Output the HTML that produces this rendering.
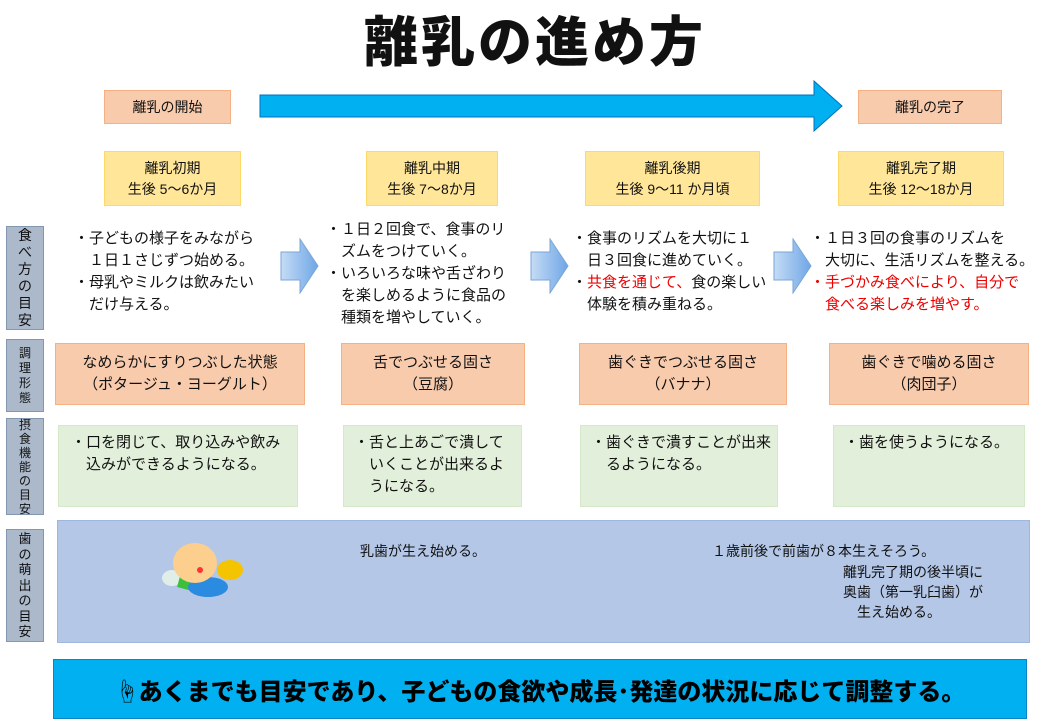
<!DOCTYPE html>
<html><head><meta charset="utf-8"><style>
body{margin:0;width:1043px;height:722px;background:#fff;position:relative;overflow:hidden;font-family:"Liberation Sans","Noto Sans CJK JP",sans-serif;color:#111}
.a{position:absolute;box-sizing:border-box}
.c{display:flex;align-items:center;justify-content:center;text-align:center}
.or{background:#f8cbad;border:1px solid #f4b183}
.ye{background:#ffe699;border:1px solid #ffd966}
.gr{background:#acb9ca;border:1px solid #8497b0;font-size:13px;line-height:16px;text-align:center;display:flex;align-items:center;justify-content:center}
.gn{background:#e2efda;border:1px solid #d5e8c8}
.t{font-size:15px;line-height:22px;white-space:nowrap}
.r{color:#e00}
</style></head><body>
<div class="a c" style="left:300px;top:2px;width:470px;height:70px;font-size:54px;font-weight:900;letter-spacing:3px">離乳の進め方</div>
<div class="a c or" style="left:104px;top:90px;width:127px;height:34px;font-size:14px">離乳の開始</div>
<div class="a c or" style="left:858px;top:90px;width:144px;height:34px;font-size:14px">離乳の完了</div>
<svg class="a" style="left:258px;top:80px" width="586" height="54"><polygon points="2,15 556,15 556,1 584,26 556,51 556,37 2,37" fill="#00b0f0" stroke="#0070c0" stroke-width="1"/></svg>
<div class="a c ye" style="left:104px;top:151px;width:137px;height:55px;font-size:14px;line-height:21px">離乳初期<br>生後 5～6か月</div>
<div class="a c ye" style="left:366px;top:151px;width:132px;height:55px;font-size:14px;line-height:21px">離乳中期<br>生後 7～8か月</div>
<div class="a c ye" style="left:585px;top:151px;width:175px;height:55px;font-size:14px;line-height:21px">離乳後期<br>生後 9～11 か月頃</div>
<div class="a c ye" style="left:838px;top:151px;width:166px;height:55px;font-size:14px;line-height:21px">離乳完了期<br>生後 12～18か月</div>
<div class="a gr" style="left:6px;top:226px;width:38px;height:104px;font-size:14px;line-height:17px">食<br>べ<br>方<br>の<br>目<br>安</div>
<div class="a gr" style="left:6px;top:339px;width:38px;height:73px;font-size:12px;line-height:15px">調<br>理<br>形<br>態</div>
<div class="a gr" style="left:6px;top:418px;width:38px;height:97px;font-size:12px;line-height:14px">摂<br>食<br>機<br>能<br>の<br>目<br>安</div>
<div class="a gr" style="left:6px;top:529px;width:38px;height:113px;font-size:13px;line-height:15.5px">歯<br>の<br>萌<br>出<br>の<br>目<br>安</div>
<div class="a t" style="left:74px;top:228px">・子どもの様子をみながら<br>　１日１さじずつ始める。<br>・母乳やミルクは飲みたい<br>　だけ与える。</div>
<div class="a t" style="left:326px;top:219px">・１日２回食で、食事のリ<br>　ズムをつけていく。<br>・いろいろな味や舌ざわり<br>　を楽しめるように食品の<br>　種類を増やしていく。</div>
<div class="a t" style="left:572px;top:228px">・食事のリズムを大切に１<br>　日３回食に進めていく。<br>・<span class="r">共食を通じて、</span>食の楽しい<br>　体験を積み重ねる。</div>
<div class="a t" style="left:810px;top:228px">・１日３回の食事のリズムを<br>　大切に、生活リズムを整える。<br><span class="r">・手づかみ食べにより、自分で<br>　食べる楽しみを増やす。</span></div>
<svg class="a" style="left:280px;top:238px" width="40" height="56"><defs><linearGradient id="g"><stop offset="0" stop-color="#c5dcf5"/><stop offset="1" stop-color="#6fa6e6"/></linearGradient></defs><polygon points="1,14 20,14 20,1 38,28 20,55 20,42 1,42" fill="url(#g)" stroke="#7aa6d8"/></svg>
<svg class="a" style="left:530px;top:238px" width="40" height="56"><polygon points="1,14 20,14 20,1 38,28 20,55 20,42 1,42" fill="url(#g)" stroke="#7aa6d8"/></svg>
<svg class="a" style="left:773px;top:238px" width="40" height="56"><polygon points="1,14 20,14 20,1 38,28 20,55 20,42 1,42" fill="url(#g)" stroke="#7aa6d8"/></svg>
<div class="a c or" style="left:55px;top:343px;width:250px;height:62px;font-size:15px;line-height:22px">なめらかにすりつぶした状態<br>（ポタージュ・ヨーグルト）</div>
<div class="a c or" style="left:341px;top:343px;width:184px;height:62px;font-size:15px;line-height:22px">舌でつぶせる固さ<br>（豆腐）</div>
<div class="a c or" style="left:579px;top:343px;width:208px;height:62px;font-size:15px;line-height:22px">歯ぐきでつぶせる固さ<br>（バナナ）</div>
<div class="a c or" style="left:829px;top:343px;width:200px;height:62px;font-size:15px;line-height:22px">歯ぐきで噛める固さ<br>（肉団子）</div>
<div class="a gn t" style="left:58px;top:425px;width:240px;height:82px;padding:6px 0 0 12px">・口を閉じて、取り込みや飲み<br>　込みができるようになる。</div>
<div class="a gn t" style="left:343px;top:425px;width:179px;height:82px;padding:6px 0 0 10px">・舌と上あごで潰して<br>　いくことが出来るよ<br>　うになる。</div>
<div class="a gn t" style="left:580px;top:425px;width:198px;height:82px;padding:6px 0 0 10px">・歯ぐきで潰すことが出来<br>　るようになる。</div>
<div class="a gn t" style="left:833px;top:425px;width:192px;height:82px;padding:6px 0 0 10px">・歯を使うようになる。</div>
<div class="a" style="left:57px;top:520px;width:973px;height:123px;background:#b4c7e7;border:1px solid #9fb6df"></div>
<svg class="a" style="left:150px;top:535px" width="100" height="70">
<ellipse cx="22" cy="43" rx="10" ry="8" fill="#dfeee8"/>
<rect x="28" y="45" width="22" height="10" fill="#3cc03c" transform="rotate(15 39 50)"/>
<ellipse cx="58" cy="52" rx="20" ry="10" fill="#2a8be0"/>
<ellipse cx="45" cy="28" rx="22" ry="20" fill="#fccf8f"/>
<circle cx="50" cy="35" r="3" fill="#f33"/>
<ellipse cx="80" cy="35" rx="13" ry="10" fill="#f5c400"/>
</svg>
<div class="a" style="left:360px;top:541px;font-size:14px">乳歯が生え始める。</div>
<div class="a" style="left:712px;top:541px;font-size:14px;line-height:21px">１歳前後で前歯が８本生えそろう。</div>
<div class="a" style="left:843px;top:562px;font-size:14px;line-height:20px">離乳完了期の後半頃に<br>奥歯（第一乳臼歯）が<br>　生え始める。</div>
<div class="a c" style="left:53px;top:659px;width:974px;height:60px;background:#00b0f0;border:1px solid #0a85c6;font-size:24px;font-weight:900;color:#000;white-space:nowrap">☝あくまでも目安であり、子どもの食欲や成長･発達の状況に応じて調整する。</div>
</body></html>
